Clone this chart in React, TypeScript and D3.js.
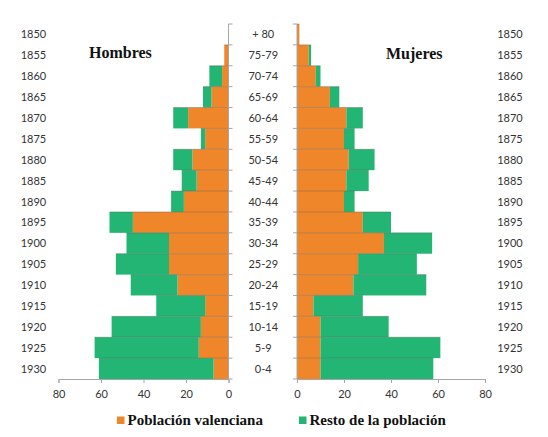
import React, {useEffect, useRef} from 'react';
import * as d3 from 'd3';

const ages = ['+ 80','75-79','70-74','65-69','60-64','55-59','50-54','45-49','40-44','35-39','30-34','25-29','20-24','15-19','10-14','5-9','0-4'];
const years = ['1850','1855','1860','1865','1870','1875','1880','1885','1890','1895','1900','1905','1910','1915','1920','1925','1930'];

// Hombres
const hombresValenciana = [0, 2, 3, 8, 19, 11, 17, 15, 21, 45, 28, 28, 24, 11, 13, 14, 7];
const hombresResto = [0, 0, 6, 4, 7, 2, 9, 7, 6, 11, 20, 25, 22, 23, 42, 49, 54];

// Mujeres
const mujeresValenciana = [1, 5, 8, 14, 21, 20, 22, 21, 20, 28, 37, 26, 24, 7, 10, 10, 10];
const mujeresResto = [0, 1, 2, 4, 7, 4.5, 11, 9.5, 4.5, 12, 20.5, 25, 31, 21, 29, 51, 48];

const xTicks = [0, 20, 40, 60, 80];
const legendLabels = ['Población valenciana', 'Resto de la población'];

const ORANGE = '#f0862a';
const GREEN = '#22b573';
const AXIS = '#a6a6a6';

const App: React.FC = () => {
  const svgRef = useRef<SVGSVGElement | null>(null);

  useEffect(() => {
    const width = 548;
    const height = 437;
    const svg = d3.select(svgRef.current).attr('width', width).attr('height', height);
    svg.selectAll('*').remove();

    const top = 24;
    const bottom = 379;

    const y = d3.scaleBand<string>().domain(ages).range([top, bottom]).padding(0);
    const xL = d3.scaleLinear().domain([0, 80]).range([228.5, 58.5]);
    const xR = d3.scaleLinear().domain([0, 80]).range([297, 485]);

    const bounds = ages.map((a) => y(a)!).concat([bottom]);

    // bars
    const drawSide = (vals: number[], rest: number[], x: d3.ScaleLinear<number, number>) => {
      const g = svg.append('g');
      ages.forEach((a, i) => {
        const y0 = y(a)!;
        const h = y.bandwidth();
        const v = vals[i];
        const r = rest[i];
        const xa = Math.min(x(0), x(v));
        g.append('rect').attr('x', xa).attr('y', y0).attr('width', Math.abs(x(v) - x(0))).attr('height', h).attr('fill', ORANGE);
        const xb = Math.min(x(v), x(v + r));
        g.append('rect').attr('x', xb).attr('y', y0).attr('width', Math.abs(x(v + r) - x(v))).attr('height', h).attr('fill', GREEN);
        // top edge of the bar
        if (v + r > 0) {
          g.append('line').attr('x1', x(0)).attr('x2', x(v + r)).attr('y1', y0).attr('y2', y0)
            .attr('stroke', 'rgba(80,80,80,0.45)').attr('stroke-width', 0.8);
        }
      });
    };
    drawSide(hombresValenciana, hombresResto, xL);
    drawSide(mujeresValenciana, mujeresResto, xR);

    // vertical axes with boundary ticks
    const vAxis = (x0: number, dir: number) => {
      const g = svg.append('g').attr('stroke', AXIS).attr('stroke-width', 1);
      g.append('line').attr('x1', x0).attr('x2', x0).attr('y1', top).attr('y2', bottom);
      bounds.forEach((b) => {
        g.append('line').attr('x1', x0).attr('x2', x0 + dir * 4).attr('y1', b).attr('y2', b);
      });
    };
    vAxis(xL(0), 1);
    vAxis(xR(0), -1);

    // bottom axes
    const labelFont = 'Lato, "Open Sans", sans-serif';
    const styleAxis = (g: d3.Selection<SVGGElement, unknown, null, undefined>) => {
      g.select('.domain').attr('stroke', AXIS);
      g.selectAll('.tick line').attr('stroke', AXIS);
      g.selectAll('.tick text').attr('fill', '#333').style('font-family', labelFont).style('font-size', '11px');
    };
    svg.append('g').attr('transform', `translate(0,${bottom})`)
      .call(d3.axisBottom(xL).tickValues(xTicks).tickSize(4).tickSizeOuter(4).tickPadding(7).tickFormat(d3.format('d')))
      .call(styleAxis);
    svg.append('g').attr('transform', `translate(0,${bottom})`)
      .call(d3.axisBottom(xR).tickValues(xTicks).tickSize(4).tickSizeOuter(4).tickPadding(7).tickFormat(d3.format('d')))
      .call(styleAxis);

    // row labels
    const mid = (xL(0) + xR(0)) / 2 + 0.5;
    ages.forEach((a, i) => {
      const cy = y(a)! + y.bandwidth() / 2 + 4;
      svg.append('text').attr('x', mid).attr('y', cy).attr('text-anchor', 'middle')
        .style('font-family', labelFont).style('font-size', '11px').attr('fill', '#333').text(a);
      svg.append('text').attr('x', 33.5).attr('y', cy).attr('text-anchor', 'middle')
        .style('font-family', labelFont).style('font-size', '11px').attr('fill', '#333').text(years[i]);
      svg.append('text').attr('x', 510).attr('y', cy).attr('text-anchor', 'middle')
        .style('font-family', labelFont).style('font-size', '11px').attr('fill', '#333').text(years[i]);
    });

    // titles
    const serif = '"Liberation Serif", "Times New Roman", serif';
    svg.append('text').attr('x', 89).attr('y', 57.5).style('font-family', serif).style('font-size', '16px')
      .style('font-weight', 'bold').attr('fill', '#111').text('Hombres');
    svg.append('text').attr('x', 386).attr('y', 59).style('font-family', serif).style('font-size', '16px')
      .style('font-weight', 'bold').attr('fill', '#111').text('Mujeres');

    // legend
    const legend = [
      {label: legendLabels[0], color: ORANGE, x: 117},
      {label: legendLabels[1], color: GREEN, x: 299},
    ];
    legend.forEach((l) => {
      svg.append('rect').attr('x', l.x).attr('y', 416.5).attr('width', 7.5).attr('height', 7.5).attr('fill', l.color);
      svg.append('text').attr('x', l.x + 10.5).attr('y', 425).style('font-family', serif).style('font-size', '15px')
        .style('font-weight', 'bold').attr('fill', '#111').text(l.label);
    });
  }, []);

  return <svg ref={svgRef} style={{position: 'absolute', left: 0, top: 0, background: '#fff'}}></svg>;
};

export default App;
